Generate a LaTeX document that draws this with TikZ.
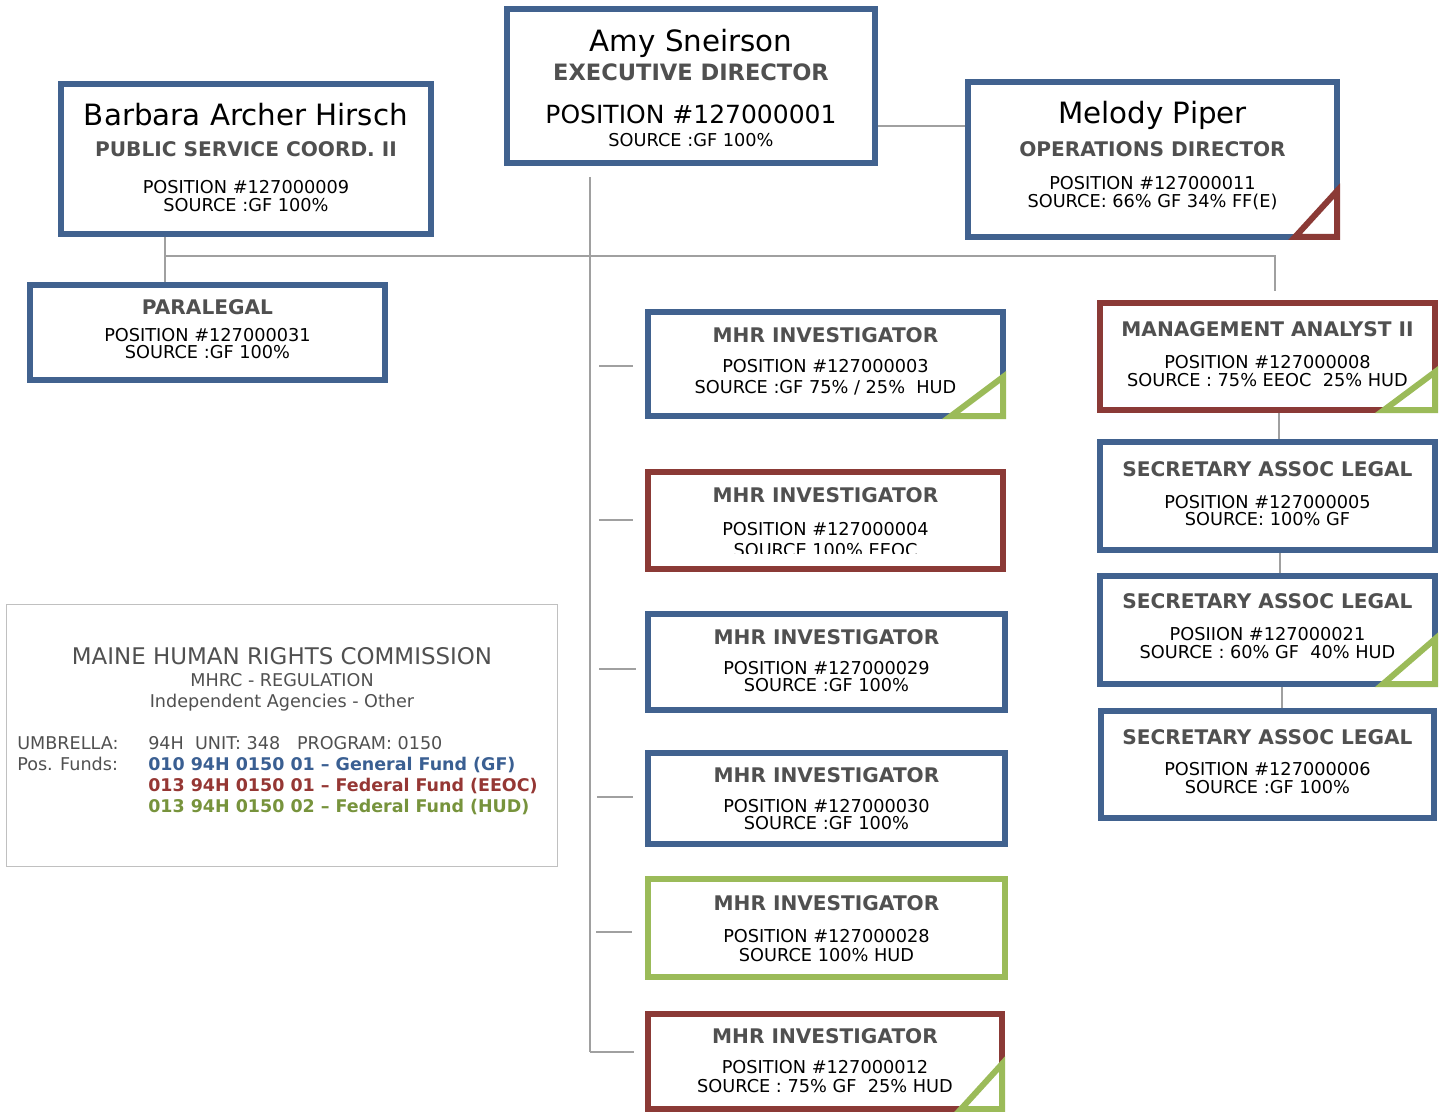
\documentclass[tikz,border=0pt]{standalone}
\usepackage{fontspec}
\setmainfont{DejaVu Sans}
\usetikzlibrary{fit}
\definecolor{cblue}{HTML}{41628F}
\definecolor{cred}{HTML}{8B3A36}
\definecolor{cgreen}{HTML}{9BBB59}
\definecolor{chead}{HTML}{505050}
\definecolor{cconn}{HTML}{A0A0A0}
\definecolor{clegbd}{HTML}{C0C0C0}
\definecolor{cleg}{HTML}{505050}
\definecolor{lblue}{HTML}{3A5F92}
\definecolor{lred}{HTML}{953734}
\definecolor{lgreen}{HTML}{77933C}
\begin{document}
\begin{tikzpicture}[x=0.75pt,y=-0.75pt,
  obox/.style={draw=#1, line width=4.5pt, inner sep=0pt, fill=white},
  tri/.style={draw=#1, line width=4.5pt, fill=white, line join=miter},
  conn/.style={draw=cconn, line width=1.5pt},
  pname/.style={font=\fontsize{22}{26}\selectfont, anchor=base, inner sep=0pt},
  ptitle/.style={font=\fontsize{15.1}{18}\bfseries\selectfont, text=chead, anchor=base, inner sep=0pt},
  psmall/.style={font=\fontsize{13.3}{16}\selectfont, anchor=base, inner sep=0pt},
  legt/.style={font=\fontsize{17.2}{20}\selectfont, text=cleg, anchor=base, inner sep=0pt},
  legs/.style={font=\fontsize{13.2}{16}\selectfont, text=cleg, anchor=base, inner sep=0pt},
  legc/.style={font=\fontsize{13.1}{16}\bfseries\selectfont, anchor=base west, inner sep=0pt},
  legl/.style={font=\fontsize{13.2}{16}\selectfont, text=cleg, anchor=base west, inner sep=0pt}
]
\useasboundingbox (0,0) rectangle (1444,1112);

% ---------- connectors ----------
\coordinate (t0) at (590,177);
\coordinate (t1) at (590,1052);
\coordinate (hL) at (165,256);
\coordinate (hR) at (1275,256);
\coordinate (hD) at (1275,291);
\coordinate (am) at (0,126);
\coordinate (k1a) at (599,366);  \coordinate (k1b) at (633,366);
\coordinate (k2a) at (599,520);  \coordinate (k2b) at (633,520);
\coordinate (k3a) at (599,669);  \coordinate (k3b) at (636,669);
\coordinate (k4a) at (597,797);  \coordinate (k4b) at (633,797);
\coordinate (k5a) at (596,932);  \coordinate (k5b) at (632,932);
\coordinate (k6b) at (634,1052);
\coordinate (r1) at (1279,0);
\coordinate (r2) at (1280,0);
\coordinate (r3) at (1282,0);

% ---------- boxes ----------
\node[obox=cblue, fit={(507,9) (875,163)}] (amy) {};
\node[obox=cblue, fit={(61,84) (431,234)}] (barbara) {};
\node[obox=cblue, fit={(968,82) (1337,237)}] (melody) {};
\node[obox=cblue, fit={(30,285) (385,380)}] (paralegal) {};
\node[obox=cblue, fit={(648,312) (1003,416)}] (mhr1) {};
\node[obox=cred, fit={(648,472) (1003,569)}] (mhr2) {};
\node[obox=cblue, fit={(648,614) (1005,710)}] (mhr3) {};
\node[obox=cblue, fit={(648,753) (1005,844)}] (mhr4) {};
\node[obox=cgreen, fit={(648,879) (1005,977)}] (mhr5) {};
\node[obox=cred, fit={(648,1014) (1002,1109)}] (mhr6) {};
\node[obox=cred, fit={(1100,303) (1435,410)}] (mgmt) {};
\node[obox=cblue, fit={(1100,442) (1435,550)}] (sec1) {};
\node[obox=cblue, fit={(1100,576) (1435,684)}] (sec2) {};
\node[obox=cblue, fit={(1101,711) (1434,818)}] (sec3) {};
\node[draw=clegbd, line width=0.9pt, inner sep=0pt, fit={(6.5,604.5) (557.5,866.5)}] (legend) {};

\draw[conn] (t0) -- (t1);
\draw[conn] (hL) -- (hR) -- (hD);
\draw[conn] (barbara.south -| hL) -- (paralegal.north -| hL);
\draw[conn] (amy.east |- am) -- (melody.west |- am);
\draw[conn] (k1a) -- (k1b);
\draw[conn] (k2a) -- (k2b);
\draw[conn] (k3a) -- (k3b);
\draw[conn] (k4a) -- (k4b);
\draw[conn] (k5a) -- (k5b);
\draw[conn] (t1) -- (k6b);
\draw[conn] (mgmt.south -| r1) -- (sec1.north -| r1);
\draw[conn] (sec1.south -| r2) -- (sec2.north -| r2);
\draw[conn] (sec2.south -| r3) -- (sec3.north -| r3);

% ---------- corner triangles ----------
\draw[tri=cred] (1295,237) -- (1337,237) -- (1337,191) -- cycle;
\draw[tri=cgreen] (951,416) -- (1003,416) -- (1003,377) -- cycle;
\draw[tri=cgreen] (1384,410) -- (1435,410) -- (1435,372) -- cycle;
\draw[tri=cgreen] (1383,684) -- (1435,684) -- (1435,639) -- cycle;
\draw[tri=cgreen] (961,1109) -- (1002,1109) -- (1002,1064) -- cycle;

% ---------- texts ----------
\node[pname] (amyN) at (691,52) {Amy Sneirson};
\node[ptitle, font=\fontsize{16.9}{20}\bfseries\selectfont] (amyT) at (691,81) {EXECUTIVE DIRECTOR};
\node[psmall, font=\fontsize{18.75}{22}\selectfont] (amyP) at (691,124) {POSITION \#127000001};
\node[psmall] (amyS) at (691,147) {SOURCE :GF 100\%};

\node[pname] (barN) at (246,126) {Barbara Archer Hirsch};
\node[ptitle] (barT) at (246,157) {PUBLIC SERVICE COORD. II};
\node[psmall] (barP) at (246,194) {POSITION \#127000009};
\node[psmall] (barS) at (246,212) {SOURCE :GF 100\%};

\node[pname] (melN) at (1152.5,124) {Melody Piper};
\node[ptitle] (melT) at (1152.5,157) {OPERATIONS DIRECTOR};
\node[psmall] (melP) at (1152.5,190) {POSITION \#127000011};
\node[psmall] (melS) at (1152.5,208) {SOURCE: 66\% GF 34\% FF(E)};

\node[ptitle] (parT) at (207.5,315) {PARALEGAL};
\node[psmall] (parP) at (207.5,341) {POSITION \#127000031};
\node[psmall] (parS) at (207.5,358) {SOURCE :GF 100\%};

\node[ptitle] (m1T) at (825.5,342) {MHR INVESTIGATOR};
\node[psmall] (m1P) at (825.5,372) {POSITION \#127000003};
\node[psmall] (m1S) at (825.5,393) {SOURCE :GF 75\% / 25\%~ HUD};

\node[ptitle] (m2T) at (825.5,502) {MHR INVESTIGATOR};
\node[psmall] (m2P) at (825.5,535) {POSITION \#127000004};
\begin{scope}
\clip (650,474) rectangle (1001,553.5);
\node[psmall] (m2S) at (825.5,556) {SOURCE 100\% EEOC};
\end{scope}

\node[ptitle] (m3T) at (826.5,644) {MHR INVESTIGATOR};
\node[psmall] (m3P) at (826.5,674) {POSITION \#127000029};
\node[psmall] (m3S) at (826.5,691) {SOURCE :GF 100\%};

\node[ptitle] (m4T) at (826.5,782.5) {MHR INVESTIGATOR};
\node[psmall] (m4P) at (826.5,812) {POSITION \#127000030};
\node[psmall] (m4S) at (826.5,829) {SOURCE :GF 100\%};

\node[ptitle] (m5T) at (826.5,910) {MHR INVESTIGATOR};
\node[psmall] (m5P) at (826.5,942) {POSITION \#127000028};
\node[psmall] (m5S) at (826.5,961) {SOURCE 100\% HUD};

\node[ptitle] (m6T) at (825,1043) {MHR INVESTIGATOR};
\node[psmall] (m6P) at (825,1073) {POSITION \#127000012};
\node[psmall] (m6S) at (825,1092) {SOURCE : 75\% GF~ 25\% HUD};

\node[ptitle] (maT) at (1267.5,336) {MANAGEMENT ANALYST II};
\node[psmall] (maP) at (1267.5,368) {POSITION \#127000008};
\node[psmall] (maS) at (1267.5,386) {SOURCE : 75\% EEOC~ 25\% HUD};

\node[ptitle] (s1T) at (1267.5,476) {SECRETARY ASSOC LEGAL};
\node[psmall] (s1P) at (1267.5,508) {POSITION \#127000005};
\node[psmall] (s1S) at (1267.5,525) {SOURCE: 100\% GF};

\node[ptitle] (s2T) at (1267.5,608) {SECRETARY ASSOC LEGAL};
\node[psmall] (s2P) at (1267.5,640) {POSIION \#127000021};
\node[psmall] (s2S) at (1267.5,658) {SOURCE : 60\% GF~ 40\% HUD};

\node[ptitle] (s3T) at (1267.5,744) {SECRETARY ASSOC LEGAL};
\node[psmall] (s3P) at (1267.5,775) {POSITION \#127000006};
\node[psmall] (s3S) at (1267.5,793) {SOURCE :GF 100\%};

% ---------- legend ----------
\node[legt] (lg1) at (282,664) {MAINE HUMAN RIGHTS COMMISSION};
\node[legs] (lg2) at (282,686) {MHRC - REGULATION};
\node[legs] (lg3) at (282,707) {Independent Agencies - Other};
\node[legl] (lg4) at (17,749) {UMBRELLA:};
\node[legl] (lg5) at (148,749) {94H~ UNIT: 348~~ PROGRAM: 0150};
\node[legl] (lg6) at (17,770) {Pos. Funds:};
\node[legc, text=lblue] (lg7) at (148,770) {010 94H 0150 01 – General Fund (GF)};
\node[legc, text=lred] (lg8) at (148,791) {013 94H 0150 01 – Federal Fund (EEOC)};
\node[legc, text=lgreen] (lg9) at (148,812) {013 94H 0150 02 – Federal Fund (HUD)};
\end{tikzpicture}
\end{document}
